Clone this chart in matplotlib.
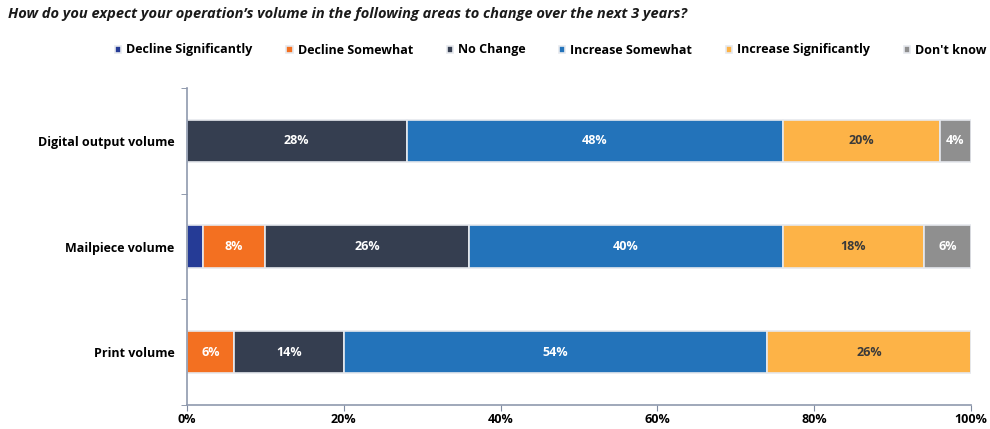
import matplotlib.pyplot as plt
import numpy as np

# --- Data ---
categories = ["Digital output volume", "Mailpiece volume", "Print volume"]
responses = ["Decline Significantly", "Decline Somewhat", "No Change",
             "Increase Somewhat", "Increase Significantly", "Don't know"]
decline_sig = [0, 2, 0]
decline_some = [0, 8, 6]
no_change = [28, 26, 14]
increase_some = [48, 40, 54]
increase_sig = [20, 18, 26]
dont_know = [4, 6, 0]
x_ticks = [0, 20, 40, 60, 80, 100]

colors = ["#253B96", "#F37021", "#353E50", "#2373BA", "#FDB347", "#8F8F8F"]
text_colors = ["white", "white", "white", "white", "#3A3A3A", "white"]

plt.rcParams['font.family'] = ['Open Sans', 'DejaVu Sans']

fig = plt.figure(figsize=(9.9, 4.29), dpi=100)
ax = fig.add_axes([187 / 990, 1 - 405 / 429, 784 / 990, 317 / 429])

series = [decline_sig, decline_some, no_change, increase_some, increase_sig, dont_know]
y = np.arange(len(categories))
left = np.zeros(len(categories))
for vals, name, col, tcol in zip(series, responses, colors, text_colors):
    vals = np.array(vals, dtype=float)
    ax.barh(y, vals, left=left, height=0.4, color=col, edgecolor="#E6E9EE",
            linewidth=1.2, label=name)
    for yi, (l, v) in enumerate(zip(left, vals)):
        if v >= 3:
            ax.text(l + v / 2, yi, f"{v:.0f}%", ha="center", va="center",
                    color=tcol, fontsize=9, fontweight="bold")
    left += vals

ax.set_xlim(0, 100)
ax.set_ylim(2.5, -0.5)
ax.set_xticks(x_ticks)
ax.set_xticklabels([f"{t}%" for t in x_ticks], fontsize=9, fontweight="bold")
ax.set_yticks(y)
ax.set_yticklabels(categories, fontsize=9, fontweight="bold")
ax.tick_params(axis="y", length=0, pad=9)
ax.set_yticks([-0.5, 0.5, 1.5, 2.5], minor=True)
ax.tick_params(axis="y", which="minor", length=4, color="#7F8AA0")
ax.tick_params(axis="x", length=4, color="#7F8AA0", pad=2)

for s in ["top", "right"]:
    ax.spines[s].set_visible(False)
for s in ["left", "bottom"]:
    ax.spines[s].set_color("#8F99AE")
    ax.spines[s].set_linewidth(1.2)

fig.text(8 / 990, 1 - 14 / 429,
         "How do you expect your operation\u2019s volume in the following areas to change over the next 3 years?",
         fontsize=10.5, fontweight="bold", style="italic", va="center", ha="left", color="#1A1A1A")

fig.legend(loc="center right", bbox_to_anchor=(998 / 990, 1 - 50 / 429), ncol=6,
           frameon=False, prop={"weight": "bold", "size": 9},
           handlelength=0.5, handleheight=0.5, handletextpad=0.4, columnspacing=2.7)

fig.savefig("out.png", dpi=100)
